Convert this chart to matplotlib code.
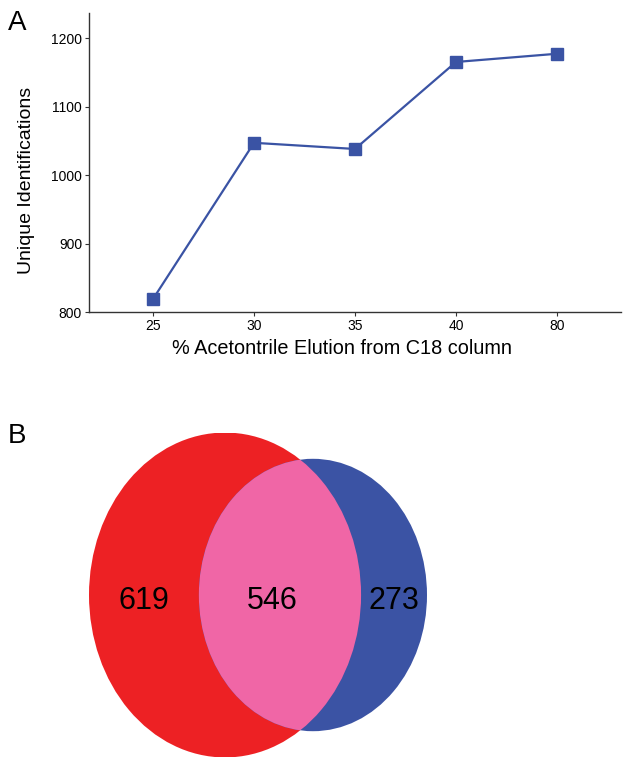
import numpy as np
import matplotlib
matplotlib.use("Agg")
import matplotlib.pyplot as plt
from matplotlib.patches import Ellipse

plt.rcParams["font.family"] = ["Liberation Sans", "DejaVu Sans"]

# panel A
ACN_LABELS = ["25", "30", "35", "40", "80"]
UNIQUE_IDS = [819, 1047, 1038, 1165, 1177]
Y_TICKS = [800, 900, 1000, 1100, 1200]

# panel B: counts (left only, shared, right only)
VENN_COUNTS = [619, 546, 273]

LINE_COLOR = "#3a53a4"
RED = "#ed2124"
BLUE = "#3b53a4"
PINK = "#f066a6"
SPINE = "#333333"

W, H = 626, 770


def _overlap(r1, r2, d):
    a1 = r1 ** 2 * np.arccos((d ** 2 + r1 ** 2 - r2 ** 2) / (2 * d * r1))
    a2 = r2 ** 2 * np.arccos((d ** 2 + r2 ** 2 - r1 ** 2) / (2 * d * r2))
    k = 0.5 * np.sqrt((-d + r1 + r2) * (d + r1 - r2) * (d - r1 + r2) * (d + r1 + r2))
    return a1 + a2 - k


def _solve_distance(r1, r2, target):
    lo, hi = abs(r1 - r2) + 1e-9, r1 + r2 - 1e-9
    for _ in range(100):
        mid = (lo + hi) / 2
        if _overlap(r1, r2, mid) > target:
            lo = mid
        else:
            hi = mid
    return (lo + hi) / 2


fig = plt.figure(figsize=(W / 100, H / 100), dpi=100)

# ---- A ----
ax = fig.add_axes([89 / W, 1 - 312 / H, 532 / W, 299 / H])
x = np.arange(len(ACN_LABELS))
ax.plot(x, UNIQUE_IDS, color=LINE_COLOR, lw=1.6, marker="s", markersize=8,
        markerfacecolor=LINE_COLOR, markeredgecolor=LINE_COLOR)
ax.set_xlim(-0.634, 4.634)
ax.set_ylim(800, 1236.5)
ax.set_xticks(x)
ax.set_xticklabels(ACN_LABELS)
ax.set_yticks(Y_TICKS)
for s in ("top", "right"):
    ax.spines[s].set_visible(False)
for s in ("left", "bottom"):
    ax.spines[s].set_color(SPINE)
    ax.spines[s].set_linewidth(1.0)
ax.tick_params(direction="out", length=3, width=0.8, color=SPINE, labelsize=10, pad=2)
ax.set_ylabel("Unique Identifications", fontsize=14)
ax.yaxis.set_label_coords(-0.102, 0.44)
ax.set_xlabel("% Acetontrile Elution from C18 column", fontsize=14.3)
ax.xaxis.set_label_coords(0.476, -0.09)
ax.xaxis.label.set_va("top")
fig.text(8 / W, 1 - 30 / H, "A", fontsize=20, ha="left", va="baseline")

# ---- B ----
left_total = VENN_COUNTS[0] + VENN_COUNTS[1]
right_total = VENN_COUNTS[1] + VENN_COUNTS[2]
r1 = 1.0
r2 = np.sqrt(right_total / left_total)
d = _solve_distance(r1, r2, VENN_COUNTS[1] / left_total * np.pi * r1 ** 2)

vx = fig.add_axes([89 / W, 12 / H, 338 / W, 326 / H])
vx.set_xlim(-r1, d + r2)
vx.set_ylim(-r1, r1)
vx.set_aspect(326 / 273, adjustable="box")
vx.set_anchor("W")
vx.axis("off")

red = Ellipse((0, 0), 2 * r1, 2 * r1, facecolor=RED, edgecolor="none")
blue = Ellipse((d, 0), 2 * r2, 2 * r2, facecolor=BLUE, edgecolor="none")
vx.add_patch(red)
vx.add_patch(blue)
both = Ellipse((d, 0), 2 * r2, 2 * r2, facecolor=PINK, edgecolor="none")
vx.add_patch(both)
both.set_clip_path(red)

label_x = [(-r1 + d - r2) / 2, (d - r2 + r1) / 2 - 0.06, (r1 + d + r2) / 2]
for lx, n in zip(label_x, VENN_COUNTS):
    vx.text(lx, -0.04, str(n), fontsize=22, ha="center", va="center",
            family=["Liberation Sans Narrow", "Liberation Sans", "DejaVu Sans"])

fig.text(8 / W, 1 - 443 / H, "B", fontsize=20, ha="left", va="baseline")

fig.savefig("out.png", dpi=100)
